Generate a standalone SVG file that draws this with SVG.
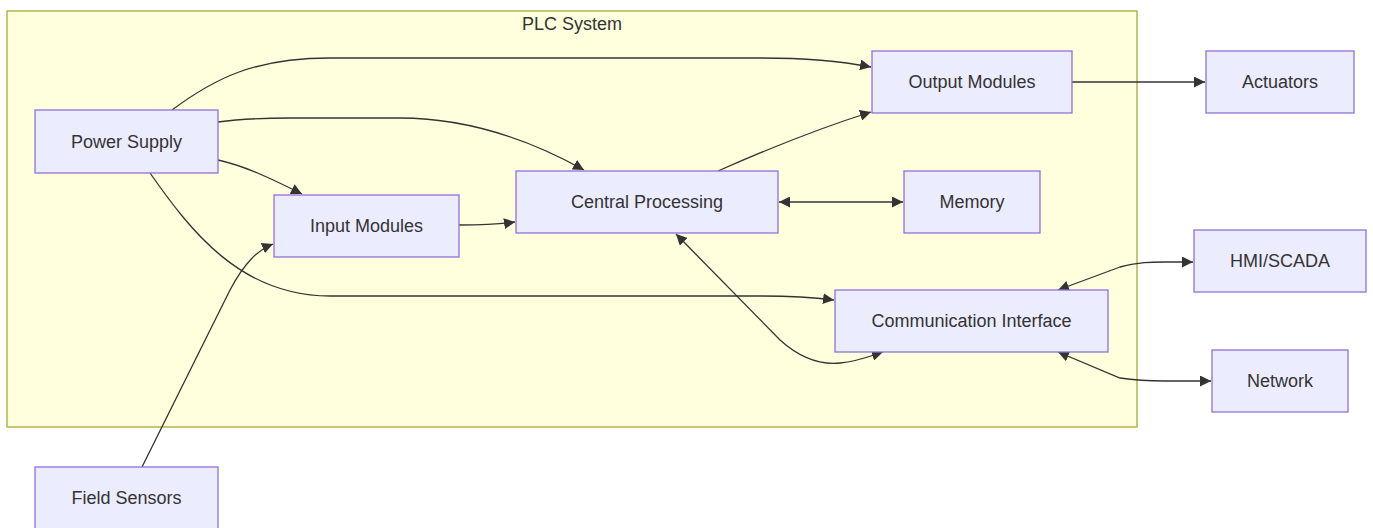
<svg xmlns="http://www.w3.org/2000/svg" width="1373" height="528" viewBox="0 0 1373 528">
<style>
.node rect{fill:#ECECFF;stroke:#9370DB;stroke-width:1.3}
.node text,.clabel{font-family:"Liberation Sans",Arial,sans-serif;font-size:18px;fill:#333;text-anchor:middle;dominant-baseline:central}
.edges path{fill:none;stroke:#333;stroke-width:1.3}
.e{marker-end:url(#arr)}
.b{marker-end:url(#arr);marker-start:url(#arr)}
</style>
<defs>
<marker id="arr" viewBox="0 0 10 10" refX="10" refY="5" markerWidth="11" markerHeight="11" markerUnits="userSpaceOnUse" orient="auto-start-reverse">
<path d="M0,0 L10,5 L0,10 z" fill="#333"/>
</marker>
</defs>
<rect width="1373" height="528" fill="#ffffff"/>
<g id="cluster-plc">
<rect x="7" y="11" width="1130" height="416" fill="#ffffde" stroke="#aaaa33" stroke-width="1.3"/>
<text class="clabel" x="572" y="24">PLC System</text>
</g>
<g class="edges" id="edges">
<path class="e" d="M172,110 C215,78 255,58 330,58 L760,58 C820,58 850,63 871,67"/>
<path class="e" d="M218,122 C240,119 260,118 290,118 L400,118 C470,118 530,140 584,170"/>
<path class="e" d="M218,160 C245,166 270,178 302,194"/>
<path class="e" d="M150,173 C190,230 240,296 330,296 L760,296 C800,296 818,298 834,300"/>
<path class="e" d="M142,467 L230,290 C245,262 258,250 273,244"/>
<path class="e" d="M459,225 C480,225 495,225 515,222"/>
<path class="e" d="M718,171 C770,148 820,128 871,112"/>
<path class="b" d="M779,202 L903,202"/>
<path class="b" d="M676,234 L780,340 C800,358 820,365 840,363 C860,361 870,356 883,352"/>
<path class="b" d="M1058,290 L1120,267 C1140,262 1150,262 1165,262 L1193,262"/>
<path class="b" d="M1058,352 L1120,378 C1140,381 1150,381 1165,381 L1211,381"/>
<path class="e" d="M1072,82 L1205,82"/>
</g>
<g class="node" id="power-supply"><rect x="35" y="110" width="183" height="63"/><text x="126.5" y="141.5">Power Supply</text></g>
<g class="node" id="input-modules"><rect x="274" y="195" width="185" height="62"/><text x="366.5" y="226">Input Modules</text></g>
<g class="node" id="central-processing"><rect x="516" y="171" width="262" height="62"/><text x="647" y="202">Central Processing</text></g>
<g class="node" id="output-modules"><rect x="872" y="51" width="200" height="62"/><text x="972" y="82">Output Modules</text></g>
<g class="node" id="memory"><rect x="904" y="171" width="136" height="62"/><text x="972" y="202">Memory</text></g>
<g class="node" id="communication-interface"><rect x="835" y="290" width="273" height="62"/><text x="971.5" y="321">Communication Interface</text></g>
<g class="node" id="actuators"><rect x="1206" y="51" width="148" height="62"/><text x="1280" y="82">Actuators</text></g>
<g class="node" id="hmi-scada"><rect x="1194" y="230" width="172" height="62"/><text x="1280" y="261">HMI/SCADA</text></g>
<g class="node" id="network"><rect x="1212" y="350" width="136" height="62"/><text x="1280" y="381">Network</text></g>
<g class="node" id="field-sensors"><rect x="35" y="467" width="183" height="62"/><text x="126.5" y="498">Field Sensors</text></g>
</svg>
